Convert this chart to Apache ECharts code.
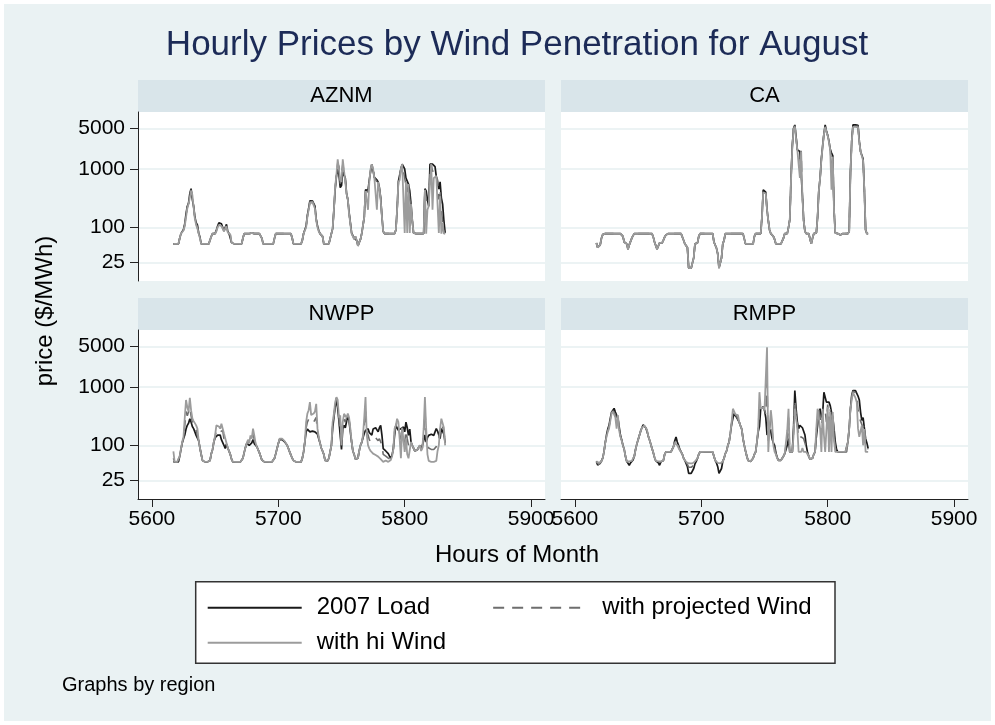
<!DOCTYPE html>
<html>
<head>
<meta charset="utf-8">
<script src="https://cdn.jsdelivr.net/npm/echarts@6/dist/echarts.min.js"></script>
<style>
html,body{margin:0;padding:0;background:#ffffff;}
#chart{width:995px;height:725px;}
</style>
</head>
<body>
<div id="chart"></div>
<script>
const regions = ['AZNM', 'CA', 'NWPP', 'RMPP'];
const seriesNames = ['2007 Load', 'with projected Wind', 'with hi Wind'];
const yTickValues = [25, 100, 1000, 5000];
const xTickValues = [5600, 5700, 5800, 5900];
const firstHour = 5617;

// ---------- AZNM ----------
const aznmLoad = [
 52,52,52,52,52,65,78,80,92,115,170,230,260,380,460,300,230,150,120,110,80,68,52,52,
 52,52,52,52,52,52,70,78,78,78,90,105,120,128,115,100,88,95,112,85,78,75,55,52,
 52,52,52,52,52,52,52,65,78,78,78,78,78,78,80,78,78,78,78,78,78,78,65,52,
 52,52,52,52,52,52,52,52,65,78,78,78,78,78,78,78,78,78,78,78,78,78,65,52,
 52,52,52,52,52,52,60,78,80,105,160,210,285,285,285,285,230,140,105,88,78,78,70,52,
 52,52,52,52,52,78,95,200,450,750,1000,800,480,520,900,950,700,380,300,180,120,80,72,65,
 70,60,48,55,62,78,80,150,440,460,430,650,900,1210,1150,720,680,650,600,480,320,150,85,78,
 78,78,78,78,78,78,78,78,90,200,610,640,1000,1210,1210,1000,700,650,550,420,250,130,80,78,
 78,78,78,78,78,78,78,460,420,300,230,1210,1210,1210,1210,1100,740,600,450,600,320,250,130,80
];
const aznmProjected = [
 52,52,52,52,52,65,78,79,90,110,160,220,255,360,440,330,225,145,115,100,79,66,52,52,
 52,52,52,52,52,52,70,78,78,78,88,102,115,122,110,97,86,92,108,83,78,75,55,52,
 52,52,52,52,52,52,52,65,78,78,78,78,78,78,80,78,78,78,78,78,78,78,65,52,
 52,52,52,52,52,52,52,52,65,78,78,78,78,78,78,78,78,78,78,78,78,78,65,52,
 52,52,52,52,52,52,60,78,80,102,155,205,275,280,280,275,220,135,102,86,78,78,70,52,
 52,52,52,52,52,78,95,200,470,780,1250,1100,560,560,1200,1200,650,380,300,175,118,79,71,64,
 70,60,48,55,62,78,80,150,430,455,400,620,950,1210,1100,710,660,600,600,470,310,150,85,78,
 78,78,78,78,78,78,78,78,90,200,605,645,1000,1210,1210,700,650,400,550,300,250,130,80,78,
 78,78,78,78,78,78,78,450,300,280,230,900,1210,900,1000,900,740,650,300,450,200,125,80,78
];
const aznmHiWind = [
 52,52,52,52,52,65,78,78,88,105,150,210,250,330,420,360,220,140,110,95,78,65,52,52,
 52,52,52,52,52,52,70,78,78,78,85,100,110,118,105,95,85,90,105,82,78,75,55,52,
 52,52,52,52,52,52,52,65,78,78,78,78,78,78,80,78,78,78,78,78,78,78,65,52,
 52,52,52,52,52,52,52,52,65,78,78,78,78,78,78,78,78,78,78,78,78,78,65,52,
 52,52,52,52,52,52,60,78,80,100,150,200,260,270,270,260,210,130,100,85,78,78,70,52,
 52,52,52,52,52,78,95,200,500,800,1470,1470,650,600,1470,1470,600,380,300,170,115,78,70,62,
 70,60,48,55,62,78,80,150,420,450,200,600,1000,1210,1000,700,650,200,600,450,300,150,85,78,
 78,78,78,78,78,78,78,78,90,200,600,650,1000,1210,1210,80,600,80,550,80,250,130,80,78,
 78,78,78,78,78,78,78,440,78,200,230,600,1210,200,700,740,750,700,80,340,78,120,78,78
];

// ---------- CA ----------
const caLoad = [
 54,45,42,50,65,75,78,78,78,78,78,78,78,78,78,78,78,78,78,78,78,70,56,54,
 52,42,50,54,65,72,78,78,78,78,78,78,78,78,78,78,78,78,78,78,78,68,56,54,
 42,45,54,54,54,60,68,74,78,78,78,78,78,78,78,78,78,78,78,78,78,60,52,52,
 45,20,20,20,20,30,52,52,54,70,78,78,78,78,78,78,78,78,78,78,78,56,52,44,
 35,20,20,30,52,60,78,78,78,78,78,78,78,78,78,78,78,78,78,78,78,78,52,52,
 52,52,52,52,52,70,78,78,78,78,78,150,440,440,400,200,130,90,78,78,70,62,52,52,
 52,52,52,52,65,78,78,78,100,135,700,2500,5000,5700,3600,2130,2130,2000,2130,350,130,85,78,78,
 78,74,52,65,78,78,80,150,440,700,1500,2500,4000,5700,4500,3800,3000,2200,1900,1700,200,80,78,78,
 78,74,72,78,78,78,78,78,85,900,3000,5700,5700,5700,5700,5600,3000,2000,2130,1500,440,90,78,78
];
const caProjected = [
 54,45,42,50,65,75,78,78,78,78,78,78,78,78,78,78,78,78,78,78,78,70,56,54,
 52,42,50,54,65,72,78,78,78,78,78,78,78,78,78,78,78,78,78,78,78,68,56,54,
 42,45,54,54,54,60,68,74,78,78,78,78,78,78,78,78,78,78,78,78,78,60,52,52,
 45,20,20,20,20,30,52,52,54,70,78,78,78,78,78,78,78,78,78,78,78,56,52,44,
 35,20,20,30,52,60,78,78,78,78,78,78,78,78,78,78,78,78,78,78,78,78,52,52,
 52,52,52,52,52,70,78,78,78,78,78,150,420,430,390,200,130,90,78,78,70,62,52,52,
 52,52,52,52,65,78,78,78,100,135,680,2450,4900,5500,3450,2100,2050,1500,2050,340,130,85,78,78,
 78,74,52,65,78,78,80,150,435,700,1480,2450,3950,5500,4400,3750,2950,2150,1200,1650,195,80,78,78,
 78,74,72,78,78,78,78,78,85,880,2950,5500,5550,5500,5550,5400,2950,2000,2100,1450,435,90,78,78
];
const caHiWind = [
 54,45,42,50,65,75,78,78,78,78,78,78,78,78,78,78,78,78,78,78,78,70,56,54,
 52,42,50,54,65,72,78,78,78,78,78,78,78,78,78,78,78,78,78,78,78,68,56,54,
 42,45,54,54,54,60,68,74,78,78,78,78,78,78,78,78,78,78,78,78,78,60,52,52,
 45,20,20,20,20,30,52,52,54,70,78,78,78,78,78,78,78,78,78,78,78,56,52,44,
 35,20,20,30,52,60,78,78,78,78,78,78,78,78,78,78,78,78,78,78,78,78,52,52,
 52,52,52,52,52,70,78,78,78,78,78,150,400,420,380,200,130,90,78,78,70,62,52,52,
 52,52,52,52,65,78,78,78,100,135,650,2400,4800,5300,3300,2100,2000,700,2000,330,130,85,78,78,
 78,74,52,65,78,78,80,150,430,700,1450,2400,3900,5300,4300,3700,2900,2100,440,1600,190,80,78,78,
 78,74,72,78,78,78,78,78,85,850,2900,5300,5400,5300,5400,5200,2900,2000,2100,1400,430,90,78,78
];

// ---------- NWPP ----------
const nwppLoad = [
 52,52,52,52,52,65,85,110,130,150,190,220,240,286,250,210,193,170,148,160,120,90,70,55,
 52,52,52,52,52,55,72,85,114,135,145,150,160,150,125,118,100,88,105,90,80,70,58,52,
 52,52,52,52,52,52,52,60,75,92,107,112,100,105,110,125,107,100,95,88,75,65,56,52,
 52,52,52,52,52,52,52,52,60,72,88,107,125,130,125,120,115,110,100,88,77,68,60,55,
 52,52,52,52,52,52,60,77,114,170,190,193,170,170,175,170,170,170,155,130,110,90,80,70,
 55,52,54,60,77,100,193,300,450,630,424,260,250,85,193,220,200,193,326,260,170,114,80,70,
 58,54,60,80,100,112,135,160,180,190,193,165,155,150,190,193,200,206,170,200,220,148,88,82,
 80,77,72,65,60,68,88,148,220,215,180,190,193,200,206,170,250,200,148,190,114,100,94,80,
 82,84,88,100,85,90,120,150,114,135,148,148,155,150,148,170,193,175,180,130,193,200,155,110
];
const nwppProjected = [
 60,52,52,52,52,65,86,112,135,220,380,320,300,450,320,250,220,200,180,175,120,90,70,55,
 52,52,52,52,52,55,72,85,114,140,180,190,185,170,180,180,130,118,108,90,80,70,58,52,
 52,52,52,52,52,52,52,60,75,92,107,118,105,125,118,155,125,105,95,88,75,65,56,52,
 52,52,52,52,52,52,52,52,60,72,88,107,128,132,128,128,116,111,100,88,77,68,60,55,
 52,52,52,52,52,52,60,77,114,200,250,280,300,240,240,250,270,300,170,135,110,90,80,70,
 55,52,54,60,77,100,220,320,500,650,500,280,290,95,220,280,250,250,340,280,180,114,80,70,
 58,54,60,80,100,112,140,220,420,170,150,125,115,110,130,130,135,140,120,130,140,100,70,68,
 65,62,60,58,58,66,86,170,220,250,210,160,120,200,200,110,180,130,100,110,114,100,94,80,
 82,84,88,100,82,90,150,400,150,100,90,85,85,85,85,90,95,110,130,170,240,230,180,105
];
const nwppHiWind = [
 79,52,52,52,52,65,88,115,140,300,600,450,380,650,400,290,260,240,220,193,120,90,70,55,
 52,52,52,52,52,55,72,85,114,148,220,230,210,193,235,240,160,148,110,90,80,70,58,52,
 52,52,52,52,52,52,52,60,75,92,107,125,110,148,130,193,148,110,95,88,75,65,56,52,
 52,52,52,52,52,52,52,52,60,72,88,107,130,133,130,135,118,112,100,88,77,68,60,55,
 52,52,52,52,52,52,60,77,114,250,350,400,550,330,340,350,380,515,193,140,110,90,80,70,
 55,52,54,60,77,100,250,350,550,670,600,300,326,100,250,346,330,300,350,300,193,114,80,70,
 58,54,60,80,100,112,148,300,670,150,100,88,80,75,72,70,68,66,64,60,58,55,52,52,
 55,52,52,54,56,65,85,193,220,286,250,130,60,200,193,77,130,70,60,56,114,100,94,80,
 82,84,88,100,80,90,193,670,193,70,54,52,52,52,52,56,54,80,100,193,286,270,200,100
];

// ---------- RMPP ----------
const rmppLoad = [
 53,46,43,49,53,60,77,110,150,190,220,290,370,400,430,371,360,290,210,150,125,100,85,65,
 53,52,45.5,50,54,56,65,85,105,125,148,175,200,225,235,200,175,145,125,105,88,75,62,54,
 53,50,45.5,52,53,55,70,77,77,77,77,77,80,95,120,139,114,100,85,77,70,60,55,52,
 43,33,33,33,33,40,48,53,60,70,77,77,77,77,77,77,77,77,77,77,77,65,55,50,
 43,33,33,40,53,60,72,80,100,114,160,230,290,350,340,300,290,250,215,190,130,100,80,65,
 55,53,53,54,60,70,77,114,170,210,424,450,460,400,300,150,160,190,170,130,110,100,75,62,
 55,53,55,60,65,72,77,100,130,77,77,77,200,870,424,250,193,220,220,200,193,150,100,77,
 65,58,56,60,70,77,140,220,326,424,300,350,815,870,550,580,550,480,371,300,193,114,85,77,
 77,77,77,77,77,77,77,114,193,424,714,870,870,870,870,700,600,371,267,300,280,130,110,88
];
const rmppProjected = [
 53,50,47,50,53,60,77,110,145,180,205,275,360,390,415,340,250,310,195,145,122,100,85,65,
 53,53,49,52,54,56,65,85,105,125,148,175,200,218,228,205,180,145,125,105,88,75,62,54,
 53,52,50,52,53,55,70,77,77,77,77,77,80,95,115,125,108,95,84,77,70,60,55,53,
 47,42,42,42,42,45,50,53,60,70,77,77,77,77,77,77,77,77,77,77,77,65,55,52,
 48,45,45,46,53,60,72,80,100,114,160,240,350,380,340,310,310,250,215,190,130,100,80,65,
 55,53,53,54,60,70,77,114,180,500,424,430,455,400,340,1200,120,190,280,180,105,90,72,61,
 55,53,55,60,65,72,77,140,300,77,77,77,180,600,350,220,130,140,140,140,130,110,90,77,
 65,58,56,60,70,77,160,320,400,300,150,400,400,400,250,500,250,420,200,340,150,90,80,77,
 77,77,77,77,77,77,77,114,193,424,680,850,860,800,700,400,300,260,250,200,230,100,95,85
];
const rmppHiWind = [
 53,53,50,52,53,60,77,110,140,170,193,260,350,380,400,300,193,330,180,140,120,100,85,65,
 53,53,53,53,54,56,65,85,105,125,148,175,200,210,220,210,185,145,125,105,88,75,62,54,
 53,53,53,53,53,55,70,77,77,77,77,77,80,95,110,114,100,90,82,77,70,60,55,53,
 50,49,49,49,49,50,53,53,60,70,77,77,77,77,77,77,77,77,77,77,77,65,55,53,
 50,49,49,50,53,60,72,80,100,114,160,250,424,400,340,320,330,250,215,190,130,100,80,65,
 55,53,53,54,60,70,77,114,193,815,424,400,450,400,380,4800,77,200,400,250,100,77,70,60,
 55,53,55,60,65,72,77,180,424,77,77,77,150,424,300,193,77,77,77,90,77,77,77,77,
 65,58,56,60,70,77,193,424,452,193,77,424,150,77,77,452,77,371,77,371,120,77,77,77,
 77,77,77,77,77,77,77,114,193,424,600,800,815,650,550,193,140,150,220,100,190,77,77,77
];

// ---------- build ----------
const FONT = '"Liberation Sans", Arial, Helvetica, sans-serif';
const regionData = [
  [aznmLoad, aznmProjected, aznmHiWind],
  [caLoad, caProjected, caHiWind],
  [nwppLoad, nwppProjected, nwppHiWind],
  [rmppLoad, rmppProjected, rmppHiWind]
];
const seriesStyles = [
  {color: '#1a1a1a', width: 1.7, type: 'solid'},
  {color: '#6e6e6e', width: 1.6, type: [11, 8]},
  {color: '#9c9c9c', width: 1.8, type: 'solid'}
];
const grids = [
  {left: 138, top: 112, width: 407, height: 169},
  {left: 561, top: 112, width: 407, height: 169},
  {left: 138, top: 330, width: 407, height: 169},
  {left: 561, top: 330, width: 407, height: 169}
];

const xAxes = grids.map((g, i) => {
  const bottom = i >= 2;
  return {
    gridIndex: i, type: 'value', min: 5589, max: 5911,
    axisLine: {show: bottom, onZero: false, lineStyle: {color: '#222', width: 1}},
    axisTick: {show: bottom, length: 8, customValues: xTickValues, lineStyle: {color: '#222', width: 1}},
    axisLabel: {show: bottom, customValues: xTickValues, fontSize: 21, color: '#000', margin: 10, fontFamily: FONT,
      formatter: v => String(Math.round(v))},
    splitLine: {show: false}
  };
});
const yAxes = grids.map((g, i) => {
  const left = i % 2 === 0;
  return {
    gridIndex: i, type: 'log', logBase: 10, min: 12, max: 9500,
    axisLine: {show: left, lineStyle: {color: '#222', width: 1}},
    axisTick: {show: left, length: 8, customValues: yTickValues, lineStyle: {color: '#222', width: 1}},
    axisLabel: {show: left, customValues: yTickValues, fontSize: 21, color: '#000', margin: 13, fontFamily: FONT,
      formatter: v => String(Math.round(v))},
    splitLine: {show: true, lineStyle: {color: '#e6eff1', width: 1.5}}
  };
});

const series = [];
regionData.forEach((arrs, r) => {
  arrs.forEach((arr, s) => {
    const st = seriesStyles[s];
    series.push({
      type: 'line', name: seriesNames[s], xAxisIndex: r, yAxisIndex: r,
      data: arr.map((v, k) => [firstHour + k, v]),
      symbol: 'none', showSymbol: false, smooth: false,
      lineStyle: {color: st.color, width: st.width, type: st.type},
      itemStyle: {color: st.color},
      z: 2 + s, silent: true
    });
  });
});

function txt(text, x, y, size, opts) {
  opts = opts || {};
  return {
    type: 'text', x: x, y: y, rotation: opts.rotation || 0, z: 10,
    style: {
      text: text, fill: opts.color || '#000',
      font: size + 'px ' + FONT,
      align: opts.align || 'center', textAlign: opts.align || 'center',
      verticalAlign: 'middle', textVerticalAlign: 'middle'
    }
  };
}

const graphics = [
  {type: 'rect', shape: {x: 0, y: 0, width: 995, height: 725}, style: {fill: 'none', stroke: '#ffffff', lineWidth: 8}, z: 1},
  {type: 'rect', shape: {x: 138, y: 80, width: 407, height: 32}, style: {fill: '#d9e5ea'}},
  {type: 'rect', shape: {x: 561, y: 80, width: 407, height: 32}, style: {fill: '#d9e5ea'}},
  {type: 'rect', shape: {x: 138, y: 298, width: 407, height: 32}, style: {fill: '#d9e5ea'}},
  {type: 'rect', shape: {x: 561, y: 298, width: 407, height: 32}, style: {fill: '#d9e5ea'}},
  txt(regions[0], 341.5, 96, 22),
  txt(regions[1], 764.5, 96, 22),
  txt(regions[2], 341.5, 314, 22),
  txt(regions[3], 764.5, 314, 22),
  txt('Hourly Prices by Wind Penetration for August', 517, 45, 35, {color: '#1c2b57'}),
  txt('price ($/MWh)', 45, 311, 24, {rotation: Math.PI / 2}),
  txt('Hours of Month', 517, 555, 24),
  {type: 'rect', shape: {x: 195.7, y: 581.7, width: 639.3, height: 81.6}, style: {fill: '#ffffff', stroke: '#333333', lineWidth: 1.5}, z: 1},
  txt('Graphs by region', 62, 685, 20, {align: 'left'})
];

const legendBase = {
  orient: 'horizontal', itemWidth: 94, itemHeight: 20, padding: 0, selectedMode: false,
  itemStyle: {color: 'rgba(0,0,0,0)', borderWidth: 0, opacity: 0},
  textStyle: {fontSize: 24, color: '#000', fontFamily: FONT, padding: [0, 0, 0, 10]}
};

const option = {
  backgroundColor: '#eaf2f3',
  animation: false,
  grid: grids.map(g => Object.assign({show: true, backgroundColor: '#ffffff', borderWidth: 0, containLabel: false}, g)),
  xAxis: xAxes,
  yAxis: yAxes,
  legend: [
    Object.assign({}, legendBase, {data: [seriesNames[0], seriesNames[1]], left: 206.7, top: 595.7, itemGap: 62}),
    Object.assign({}, legendBase, {data: [seriesNames[2]], left: 206.7, top: 630.7})
  ],
  graphic: graphics,
  series: series
};

const chart = echarts.init(document.getElementById('chart'), null, {renderer: 'canvas', width: 995, height: 725});
chart.setOption(option);
</script>
</body>
</html>
